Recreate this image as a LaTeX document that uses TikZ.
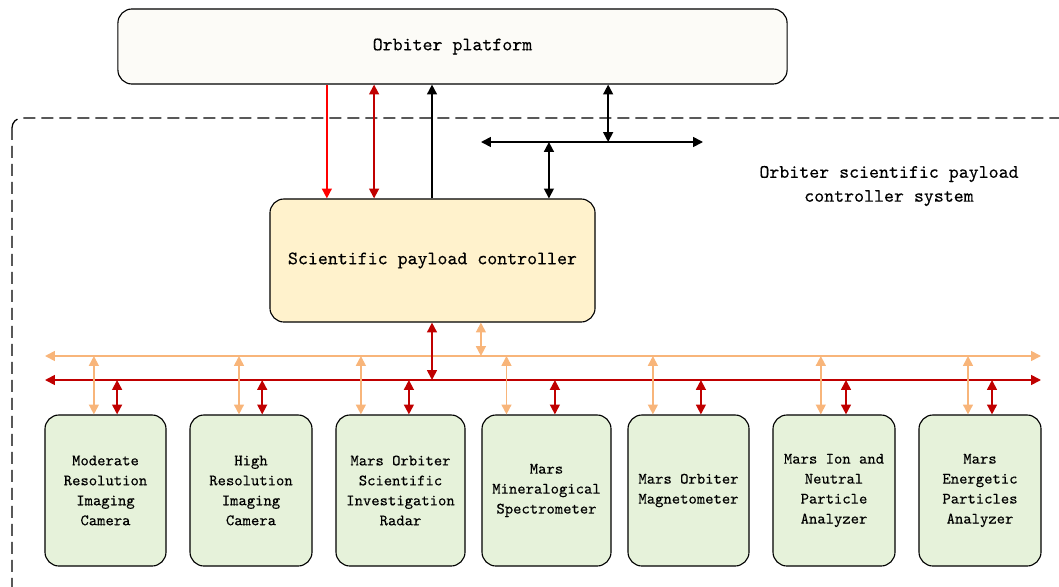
\documentclass[tikz,border=0pt]{standalone}
\usepackage{fontspec}
\newfontfamily\diagfont{lmmono10-regular.otf}[FakeBold=0.3]
\usetikzlibrary{arrows.meta}
\tikzset{>={Triangle[length=7pt,width=7pt]}}
\definecolor{platfill}{HTML}{FCFBF7}
\definecolor{ctrlfill}{HTML}{FFF2CC}
\definecolor{instfill}{HTML}{E6F2DA}
\definecolor{busorange}{HTML}{F8B57A}
\definecolor{busred}{HTML}{C00000}
\tikzset{platform/.style = {draw, line width=0.8pt, rounded corners=10pt, fill=platfill,
    minimum width=16.725cm, minimum height=1.875cm,
    font=\diagfont\fontsize{13.5}{17}\selectfont}}
\tikzset{controller/.style = {draw, line width=0.8pt, rounded corners=10pt, fill=ctrlfill,
    minimum width=8.125cm, minimum height=3.075cm,
    font=\diagfont\fontsize{13.5}{17}\selectfont}}
\tikzset{instrument/.style = {draw, line width=0.8pt, rounded corners=10pt, fill=instfill,
    minimum height=3.775cm, inner sep=1pt, align=center,
    font=\diagfont\fontsize{11.3}{14.2}\selectfont}}
\tikzset{syslabel/.style = {align=center, font=\diagfont\fontsize{13.5}{17}\selectfont}}
\tikzset{sysframe/.style = {draw, line width=0.9pt, rounded corners=7pt, dash pattern=on 8.5pt off 4.3pt}}
\tikzset{blackline/.style = {line width=1.2pt, black}}
\tikzset{brightred/.style = {line width=1.1pt, red}}
\tikzset{redline/.style = {line width=1.2pt, busred}}
\tikzset{orangeline/.style = {line width=1.2pt, busorange}}

\begin{document}
\begin{tikzpicture}[x=0.025cm, y=-0.025cm]
    \clip (0,0) rectangle (1059,586);

    \draw[sysframe] (12,118) rectangle (1090,620);

    \node[platform] (orbiter) at (452.5,46.5) {Orbiter platform};
    \node[controller] (spc) at (432.5,260.5) {Scientific payload controller};
    \node[syslabel] (syslbl) at (889,186) {Orbiter scientific payload\\controller system};

    \node[instrument, minimum width=3.025cm] (mric) at (105.5,490.5) {Moderate\\Resolution\\Imaging\\Camera};
    \node[instrument, minimum width=3.05cm] (hric) at (251,490.5) {High\\Resolution\\Imaging\\Camera};
    \node[instrument, minimum width=3.225cm] (mosir) at (400.5,490.5) {Mars Orbiter\\Scientific\\Investigation\\Radar};
    \node[instrument, minimum width=3.225cm] (mmps) at (546.5,490.5) {Mars\\Mineralogical\\Spectrometer};
    \node[instrument, minimum width=3.025cm] (momag) at (688.5,490.5) {Mars Orbiter\\Magnetometer};
    \node[instrument, minimum width=3.05cm] (mina) at (834,490.5) {Mars Ion and\\Neutral\\Particle\\Analyzer};
    \node[instrument, minimum width=3.05cm] (mepa) at (980,490.5) {Mars\\Energetic\\Particles\\Analyzer};

    % buses
    \coordinate (cbusL) at (481,142);
    \coordinate (cbusR) at (703,142);
    \coordinate (obusL) at (45,356);
    \coordinate (obusR) at (1041,356);
    \coordinate (rbusL) at (45,380);
    \coordinate (rbusR) at (1041,380);

    \draw[<->, blackline] (cbusL) -- (cbusR);
    \draw[<->, orangeline] (obusL) -- (obusR);
    \draw[<->, redline] (rbusL) -- (rbusR);

    % platform <-> controller
    \draw[->, brightred] ([xshift=-2.64cm]spc.north |- orbiter.south) -- ([xshift=-2.64cm]spc.north);
    \draw[<->, redline] ([xshift=-1.46cm]spc.north |- orbiter.south) -- ([xshift=-1.46cm]spc.north);
    \draw[->, blackline] ([xshift=-0.0125cm]spc.north) -- ([xshift=-0.0125cm]spc.north |- orbiter.south);
    \draw[<->, blackline] ([xshift=3.89cm]orbiter.south) -- ([xshift=3.89cm]orbiter.south |- cbusL);
    \draw[<->, blackline] ([xshift=2.91cm]spc.north) -- ([xshift=2.91cm]spc.north |- cbusL);

    % controller <-> buses
    \draw[<->, redline] ([xshift=-0.0125cm]spc.south) -- ([xshift=-0.0125cm]spc.south |- rbusL);
    \draw[<->, orangeline] ([xshift=1.21cm]spc.south) -- ([xshift=1.21cm]spc.south |- obusL);

    % instruments <-> buses
    \draw[<->, orangeline] ([xshift=-0.29cm]mric.north) -- ([xshift=-0.29cm]mric.north |- obusL);
    \draw[<->, redline] ([xshift=0.29cm]mric.north) -- ([xshift=0.29cm]mric.north |- rbusL);
    \draw[<->, orangeline] ([xshift=-0.3cm]hric.north) -- ([xshift=-0.3cm]hric.north |- obusL);
    \draw[<->, redline] ([xshift=0.28cm]hric.north) -- ([xshift=0.28cm]hric.north |- rbusL);
    \draw[<->, orangeline] ([xshift=-0.99cm]mosir.north) -- ([xshift=-0.99cm]mosir.north |- obusL);
    \draw[<->, redline] ([xshift=0.21cm]mosir.north) -- ([xshift=0.21cm]mosir.north |- rbusL);
    \draw[<->, orangeline] ([xshift=-1cm]mmps.north) -- ([xshift=-1cm]mmps.north |- obusL);
    \draw[<->, redline] ([xshift=0.21cm]mmps.north) -- ([xshift=0.21cm]mmps.north |- rbusL);
    \draw[<->, orangeline] ([xshift=-0.89cm]momag.north) -- ([xshift=-0.89cm]momag.north |- obusL);
    \draw[<->, redline] ([xshift=0.31cm]momag.north) -- ([xshift=0.31cm]momag.north |- rbusL);
    \draw[<->, orangeline] ([xshift=-0.33cm]mina.north) -- ([xshift=-0.33cm]mina.north |- obusL);
    \draw[<->, redline] ([xshift=0.3cm]mina.north) -- ([xshift=0.3cm]mina.north |- rbusL);
    \draw[<->, orangeline] ([xshift=-0.3cm]mepa.north) -- ([xshift=-0.3cm]mepa.north |- obusL);
    \draw[<->, redline] ([xshift=0.3cm]mepa.north) -- ([xshift=0.3cm]mepa.north |- rbusL);
\end{tikzpicture}
\end{document}
